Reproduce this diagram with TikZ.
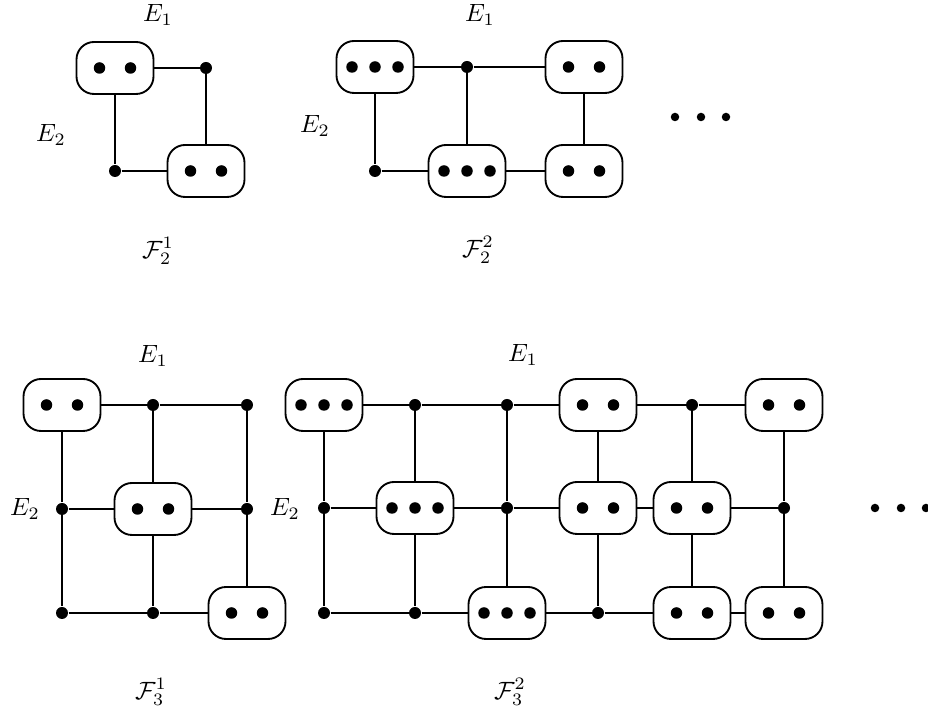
\documentclass[tikz,border=0pt]{standalone}
\usetikzlibrary{calc}
\tikzset{
  bx/.style={draw, line width=0.75pt, rounded corners=7pt, minimum width=30.8pt, minimum height=20.8pt, inner sep=0pt},
  vtx/.style={circle, fill, inner sep=0pt, minimum size=4.8pt},
  ln/.style={line width=0.65pt},
  lbl/.style={inner sep=0pt},
}
\newcommand\boxtwo[3]{\node[bx] (#1) at (#2,#3) {};
  \fill ($(#1.center)+(-15.5,0)$) circle[radius=2.3pt] ($(#1.center)+(15.5,0)$) circle[radius=2.3pt];}
\newcommand\boxthree[3]{\node[bx] (#1) at (#2,#3) {};
  \fill ($(#1.center)+(-23,0)$) circle[radius=2.3pt] (#1.center) circle[radius=2.3pt] ($(#1.center)+(23,0)$) circle[radius=2.3pt];}
\begin{document}
\begin{tikzpicture}[x=0.4pt,y=-0.4pt]
\useasboundingbox (0,0) rectangle (928,710);
% ---------- F_2^1 ----------
\boxtwo{A}{115}{68}
\node[vtx] (v1) at (206,68) {};
\boxtwo{B}{206}{171}
\node[vtx] (v2) at (115,171) {};
\draw[ln] (A) -- (v1) (v1) -- (B) (A) -- (v2) (v2) -- (B);
\node[lbl] (e11) at (158,15) {$E_1$};
\node[lbl] (e21) at (51,135) {$E_2$};
\node[lbl] (f21) at (158,251) {$\mathcal{F}_2^1$};
% ---------- F_2^2 ----------
\boxthree{C}{375}{67}
\node[vtx] (v3) at (467,67) {};
\boxtwo{D}{584}{67}
\boxthree{E}{467}{171}
\boxtwo{F}{584}{171}
\node[vtx] (v4) at (375,171) {};
\draw[ln] (C) -- (v3) (v3) -- (D) (v3) -- (E) (C) -- (v4) (v4) -- (E) (E) -- (F) (D) -- (F);
\node[lbl] (e12) at (480,15) {$E_1$};
\node[lbl] (e22) at (315,126) {$E_2$};
\node[lbl] (f22) at (478,250) {$\mathcal{F}_2^2$};
\fill (675,117) circle[radius=1.7pt] (701,117) circle[radius=1.7pt] (726,117) circle[radius=1.7pt];
% ---------- F_3^1 ----------
\boxtwo{G}{62}{405}
\node[vtx] (w1) at (153,405) {};
\node[vtx] (w2) at (247,405) {};
\node[vtx] (w3) at (62,509) {};
\boxtwo{H}{153}{509}
\node[vtx] (w4) at (247,509) {};
\node[vtx] (w5) at (62,613) {};
\node[vtx] (w6) at (153,613) {};
\boxtwo{I}{247}{613}
\draw[ln] (G) -- (w1) (w1) -- (w2) (G) -- (w3) (w3) -- (w5) (w3) -- (H) (H) -- (w4)
  (w1) -- (H) (H) -- (w6) (w5) -- (w6) (w6) -- (I) (w2) -- (w4) (w4) -- (I);
\node[lbl] (e13) at (153,356) {$E_1$};
\node[lbl] (e23) at (25,509) {$E_2$};
\node[lbl] (f31) at (151,692) {$\mathcal{F}_3^1$};
% ---------- F_3^2 ----------
\boxthree{J}{324}{405}
\node[vtx] (x1) at (415,405) {};
\node[vtx] (x2) at (507,405) {};
\boxtwo{K}{598}{405}
\node[vtx] (x3) at (692,405) {};
\boxtwo{L}{784}{405}
\node[vtx] (x4) at (324,508) {};
\boxthree{M}{415}{508}
\node[vtx] (x5) at (507,508) {};
\boxtwo{N}{598}{508}
\boxtwo{O}{692}{508}
\node[vtx] (x6) at (784,508) {};
\node[vtx] (x7) at (324,613) {};
\node[vtx] (x8) at (415,613) {};
\boxthree{P}{507}{613}
\node[vtx] (x9) at (598,613) {};
\boxtwo{Q}{692}{613}
\boxtwo{R}{784}{613}
\draw[ln] (J) -- (x1) (x1) -- (x2) (x2) -- (K) (K) -- (x3) (x3) -- (L)
  (x4) -- (M) (M) -- (x5) (x5) -- (N) (N) -- (O) (O) -- (x6)
  (x7) -- (x8) (x8) -- (P) (P) -- (x9) (x9) -- (Q) (Q) -- (R)
  (J) -- (x4) (x4) -- (x7) (x1) -- (M) (M) -- (x8) (x2) -- (x5) (x5) -- (P)
  (K) -- (N) (N) -- (x9) (x3) -- (O) (O) -- (Q) (L) -- (x6) (x6) -- (R);
\node[lbl] (e14) at (523,355) {$E_1$};
\node[lbl] (e24) at (285,509) {$E_2$};
\node[lbl] (f32) at (510,692) {$\mathcal{F}_3^2$};
\fill (875,508) circle[radius=1.7pt] (901,508) circle[radius=1.7pt] (926,508) circle[radius=1.7pt];
\end{tikzpicture}
\end{document}
